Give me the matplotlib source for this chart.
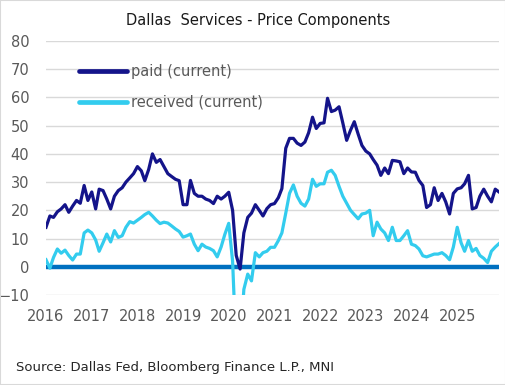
import numpy as np
import pandas as pd
import matplotlib
matplotlib.use("Agg")
import matplotlib.pyplot as plt
import matplotlib.dates as mdates
from matplotlib.patches import Rectangle

# monthly readings, Jan 2016 - Dec 2025
paid_2016 = [14, 18, 17.5, 19.5, 20.5, 22, 19.3, 21.5, 23.5, 22.5, 28.8, 23.5]
paid_2017 = [26.5, 20.5, 27.5, 27, 24, 20.5, 25, 27, 28, 30, 31.5, 33]
paid_2018 = [35.5, 34, 30.5, 34.5, 40, 37, 38, 35.5, 33, 32, 31, 30.5]
paid_2019 = [22, 22, 30.6, 26, 25, 25, 24, 23.5, 22.4, 25, 24, 25]
paid_2020 = [26.4, 20, 4, -0.8, 12, 17.5, 19, 22, 20, 18, 20.6, 22]
paid_2021 = [22.4, 24.5, 27.7, 42, 45.5, 45.5, 43.8, 43, 44.2, 47.5, 53, 49]
paid_2022 = [50.8, 51, 59.7, 55, 55.5, 56.7, 51, 44.8, 48.4, 51.4, 47, 43]
paid_2023 = [41, 40, 38, 36, 32.4, 35, 33, 37.7, 37.5, 37.2, 33, 35]
paid_2024 = [33.6, 33.5, 30.6, 28.8, 21, 22, 28, 23.5, 26, 23, 18.7, 26]
paid_2025 = [27.6, 28, 29.4, 32.4, 20.5, 21, 25, 27.5, 25, 23, 27.5, 26.5]

received_2016 = [2.5, -0.5, 3.3, 6.3, 4.8, 5.9, 4, 2.4, 4.5, 4.5, 12, 13]
received_2017 = [12, 9.5, 5.5, 8.5, 11.6, 8.8, 12.8, 10.4, 11, 14, 16, 15.5]
received_2018 = [16.5, 17.5, 18.5, 19.3, 18, 16.5, 15.3, 15.8, 15.5, 14.5, 13.4, 12.5]
received_2019 = [10.5, 11, 11.6, 8, 5.7, 8, 7, 6.5, 5.7, 3.5, 7, 11.5]
received_2020 = [15.4, 2, -30, -28, -8, -2.6, -5, 5, 3.5, 5, 5.5, 6.9]
received_2021 = [6.9, 9.3, 12, 19, 26, 29, 25, 22.5, 21.5, 24, 31, 28.5]
received_2022 = [29.4, 29.4, 33.5, 34.2, 32.4, 28.5, 25, 22.5, 20, 18.5, 17, 18.7]
received_2023 = [19, 20, 11, 15.8, 13.4, 12, 9.3, 14, 9.3, 9.3, 11, 12.8]
received_2024 = [8, 7.5, 6.3, 3.9, 3.5, 4, 4.5, 4.5, 5, 4, 2.5, 7]
received_2025 = [14, 8.5, 5.5, 9.3, 5.5, 6.5, 4, 3, 1.5, 5.5, 7, 8.2]

years = list(range(2016, 2026))

paid = (paid_2016 + paid_2017 + paid_2018 + paid_2019 + paid_2020 +
        paid_2021 + paid_2022 + paid_2023 + paid_2024 + paid_2025)
received = (received_2016 + received_2017 + received_2018 + received_2019 +
            received_2020 + received_2021 + received_2022 + received_2023 +
            received_2024 + received_2025)
dates = pd.date_range("2016-01-01", periods=len(paid), freq="MS")

plt.rcParams["font.family"] = ["DejaVu Sans"]

fig = plt.figure(figsize=(5.06, 3.85), dpi=100)
ax = fig.add_axes([46 / 506, 1 - 295 / 385, 453 / 506, 254 / 385])

ax.axhline(0, color="#0070C0", lw=3.2, zorder=2)
ax.plot(dates, paid, color="#14148A", lw=2.3, label="paid (current)",
        zorder=4, solid_joinstyle="round")
ax.plot(dates, received, color="#33CCEE", lw=2.3, label="received (current)",
        zorder=3, solid_joinstyle="round")

ax.set_ylim(-10, 80)
ax.set_yticks(np.arange(-10, 81, 10))
ax.set_xlim(dates[0], dates[-1])
ax.set_xticks([pd.Timestamp(f"{y}-01-01") for y in years])
ax.xaxis.set_major_formatter(mdates.DateFormatter("%Y"))
ax.grid(axis="y", color="#D9D9D9", lw=1.0)
ax.set_axisbelow(True)
for s in ax.spines.values():
    s.set_visible(False)
ax.tick_params(axis="y", length=0, pad=12, labelsize=10.5, labelcolor="#595959")
ax.tick_params(axis="x", length=0, pad=10, labelsize=10.5, labelcolor="#595959")

leg = ax.legend(loc="upper left", bbox_to_anchor=(0.072, 0.91), frameon=False,
                fontsize=10.5, handlelength=3.3, handletextpad=0.3,
                labelspacing=1.1, borderpad=0, borderaxespad=0)
for t in leg.get_texts():
    t.set_color("#595959")
for ln in leg.get_lines():
    ln.set_linewidth(3.4)
    ln.set_solid_capstyle("round")

fig.text(258 / 506, 1 - 20 / 385, "Dallas  Services - Price Components",
         ha="center", va="center", fontsize=10.5, color="#1A1A1A")
fig.text(16 / 506, 1 - 368 / 385, "Source: Dallas Fed, Bloomberg Finance L.P., MNI",
         ha="left", va="center", fontsize=9.5, color="#262626")

fig.patches.append(Rectangle((0, 0), 1, 1, transform=fig.transFigure, fill=False,
                             edgecolor="#D9D9D9", lw=1.5))

fig.savefig("out.png", dpi=100)
